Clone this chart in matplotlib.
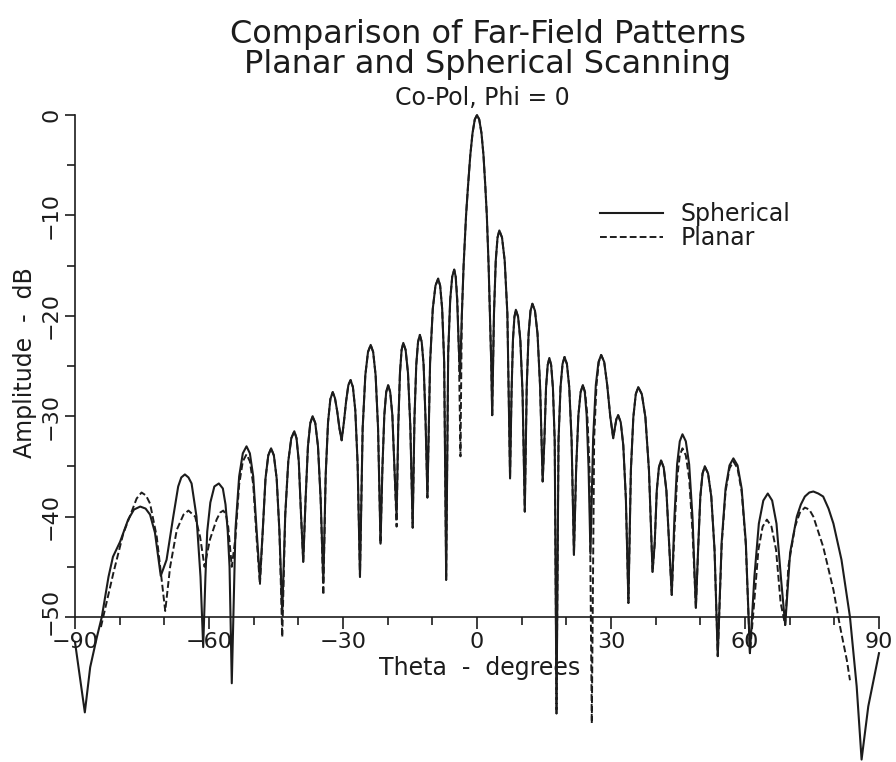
import numpy as np
import matplotlib
matplotlib.use("Agg")
import matplotlib.pyplot as plt
from matplotlib.ticker import MultipleLocator
from matplotlib.transforms import ScaledTranslation

# Far-field co-pol cut (Phi = 0): theta in degrees, amplitude in dB
# Spherical-scan result, split into left sidelobes, central region, far right
sph_left = [
    (-90.0, -52.5), (-87.8, -59.5), (-86.6, -55.0), (-85.1, -52.0), (-84.0, -50.0),
    (-82.5, -46.0), (-81.5, -44.0), (-79.9, -42.5), (-78.1, -40.3), (-76.8, -39.3),
    (-75.4, -39.0), (-74.2, -39.2), (-73.2, -39.8), (-72.1, -41.6), (-70.8, -45.9),
    (-69.5, -44.3), (-68.0, -40.0), (-66.9, -37.0), (-66.2, -36.1), (-65.4, -35.8),
    (-64.6, -36.1), (-63.9, -36.7), (-62.8, -40.0), (-61.9, -46.0), (-61.3, -53.0),
    (-60.8, -46.0), (-60.4, -41.5), (-59.7, -38.6), (-58.8, -37.0), (-57.8, -36.7),
    (-56.9, -37.2), (-56.3, -38.8), (-55.8, -41.5), (-55.4, -45.0), (-54.9, -56.6),
]
sph_center = [
    (-54.08, -41.3), (-53.25, -36.0), (-52.43, -33.7), (-51.6, -33.0),
    (-50.85, -33.7), (-50.1, -36.0), (-49.35, -41.3), (-48.6, -46.3),
    (-47.98, -41.5), (-47.35, -36.2), (-46.73, -33.9), (-46.1, -33.2),
    (-45.48, -33.9), (-44.85, -36.2), (-44.23, -41.5), (-43.6, -49.6),
    (-42.93, -39.8), (-42.25, -34.5), (-41.58, -32.2), (-40.9, -31.5),
    (-40.4, -32.2), (-39.9, -34.5), (-39.4, -39.8), (-38.9, -44.5),
    (-38.38, -38.3), (-37.85, -33.0), (-37.33, -30.7), (-36.8, -30.0),
    (-36.2, -30.7), (-35.6, -33.0), (-35.0, -38.3), (-34.4, -46.5),
    (-33.88, -35.9), (-33.35, -30.6), (-32.83, -28.3), (-32.3, -27.6),
    (-31.8, -28.2), (-31.3, -29.5), (-30.8, -31.2), (-30.3, -32.4),
    (-29.8, -30.6), (-29.3, -28.5), (-28.8, -26.9), (-28.3, -26.4),
    (-27.78, -27.1), (-27.25, -29.4), (-26.73, -34.7), (-26.2, -46.0),
    (-25.6, -31.2), (-25.0, -25.9), (-24.4, -23.6), (-23.8, -22.9),
    (-23.25, -23.6), (-22.7, -25.9), (-22.15, -31.2), (-21.6, -42.7),
    (-21.18, -35.2), (-20.75, -29.9), (-20.33, -27.6), (-19.9, -26.9),
    (-19.43, -27.6), (-18.95, -29.9), (-18.48, -35.2), (-18.0, -40.0),
    (-17.63, -31.0), (-17.25, -25.7), (-16.88, -23.4), (-16.5, -22.7),
    (-15.98, -23.4), (-15.45, -25.7), (-14.93, -31.0), (-14.4, -41.1),
    (-14.0, -30.2), (-13.6, -24.9), (-13.2, -22.6), (-12.8, -21.9),
    (-12.38, -22.6), (-11.95, -24.9), (-11.53, -30.2), (-11.1, -38.1),
    (-10.5, -24.6), (-9.9, -19.3), (-9.3, -17.0), (-8.7, -16.3),
    (-8.25, -17.0), (-7.8, -19.3), (-7.35, -24.6), (-6.9, -46.3),
    (-6.45, -23.7), (-6.0, -18.4), (-5.55, -16.1), (-5.1, -15.4),
    (-4.78, -16.1), (-4.45, -18.4), (-4.13, -22.5), (-3.8, -26.0),
    (-3.4, -20.0), (-3.0, -15.0), (-2.45, -10.0), (-2.0, -7.0), (-1.5, -4.0),
    (-1.0, -1.8), (-0.5, -0.45), (0.0, 0.0), (0.5, -0.45), (1.0, -1.8),
    (1.45, -4.0), (1.85, -7.0), (2.2, -10.0), (2.6, -15.0), (2.9, -20.0),
    (3.2, -25.0), (3.4, -29.9),
    (3.8, -19.8), (4.2, -14.5), (4.6, -12.2), (5.0, -11.5),
    (5.6, -12.2), (6.2, -14.5), (6.8, -19.8), (7.4, -36.2),
    (7.73, -27.7), (8.05, -22.4), (8.38, -20.1), (8.7, -19.4),
    (9.2, -20.1), (9.7, -22.4), (10.2, -27.7), (10.7, -39.5),
    (11.13, -27.1), (11.55, -21.8), (11.98, -19.5), (12.4, -18.8),
    (12.98, -19.5), (13.55, -21.8), (14.13, -27.1), (14.7, -36.5),
    (15.08, -32.5), (15.45, -27.2), (15.83, -24.9), (16.2, -24.2),
    (16.6, -24.9), (17.0, -27.2), (17.4, -32.5), (17.8, -59.6),
    (18.25, -32.4), (18.7, -27.1), (19.15, -24.8), (19.6, -24.1),
    (20.13, -24.8), (20.65, -27.1), (21.18, -32.4), (21.7, -43.8),
    (22.2, -35.2), (22.7, -29.9), (23.2, -27.6), (23.7, -26.9),
    (24.13, -27.6), (24.55, -29.9), (24.98, -35.2), (25.4, -43.7),
    (26.0, -32.2), (26.6, -26.9), (27.2, -24.6), (27.8, -23.9),
    (28.48, -24.6), (29.15, -26.9), (29.83, -30.0), (30.5, -32.2),
    (30.85, -31.2), (31.2, -30.3), (31.6, -29.9),
    (32.18, -30.6), (32.75, -32.9), (33.33, -38.2), (33.9, -48.6),
    (34.45, -35.4), (35.0, -30.1), (35.55, -27.8), (36.1, -27.1),
    (36.9, -27.8), (37.7, -30.1), (38.5, -35.4), (39.3, -45.5),
    (39.78, -42.7), (40.25, -37.4), (40.73, -35.1), (41.2, -34.4),
    (41.8, -35.1), (42.4, -37.4), (43.0, -42.7), (43.6, -47.8),
    (44.2, -40.1), (44.8, -34.8), (45.4, -32.5), (46.0, -31.8),
    (46.75, -32.5), (47.5, -34.8), (48.25, -40.1), (49.0, -49.1),
    (49.5, -43.3), (50.0, -38.0), (50.5, -35.7), (51.0, -35.0),
    (51.73, -35.7), (52.45, -38.0), (53.18, -43.3), (53.9, -53.9),
    (54.78, -42.5), (55.65, -37.2), (56.53, -34.9), (57.4, -34.2),
    (58.33, -34.9), (59.25, -37.2), (60.18, -42.5), (61.1, -53.6),
]
sph_right = [
    (62.1, -46.0), (63.1, -40.7), (64.1, -38.4), (65.1, -37.7),
    (66.08, -38.4), (67.05, -40.7), (68.03, -46.0), (69.0, -50.8),
    (70.1, -43.6), (71.6, -40.0), (72.5, -38.8), (73.4, -38.0), (74.4, -37.6),
    (75.3, -37.5), (76.4, -37.7), (77.5, -38.0), (78.7, -39.2), (79.8, -40.7),
    (81.6, -44.3), (83.5, -50.0), (85.0, -56.9), (86.1, -64.2), (87.6, -58.9),
    (90.0, -53.6),
]

# Planar-scan result (valid range about +/-84 degrees)
pla_left = [
    (-84.2, -51.0), (-82.8, -48.3), (-81.4, -45.6), (-79.2, -41.7), (-77.3, -39.5),
    (-76.2, -38.2), (-75.1, -37.6), (-74.1, -37.9), (-73.2, -38.7), (-71.7, -42.0),
    (-69.8, -49.4), (-68.7, -45.0), (-67.2, -41.3), (-65.7, -39.8), (-64.6, -39.4),
    (-63.1, -40.0), (-62.0, -42.0), (-61.0, -45.0), (-59.8, -42.3), (-58.3, -40.3),
    (-57.5, -39.6), (-56.8, -39.4), (-56.2, -39.8), (-55.7, -41.0), (-54.9, -45.0),
]
pla_center = [
    (-54.08, -42.1), (-53.25, -36.8), (-52.43, -34.5), (-51.6, -33.8),
    (-50.85, -34.5), (-50.1, -36.8), (-49.35, -42.1), (-48.6, -46.8),
    (-47.98, -41.5), (-47.35, -36.2), (-46.73, -33.9), (-46.1, -33.2),
    (-45.48, -33.9), (-44.85, -36.2), (-44.23, -41.5), (-43.6, -52.0),
    (-42.93, -39.8), (-42.25, -34.5), (-41.58, -32.2), (-40.9, -31.5),
    (-40.4, -32.2), (-39.9, -34.5), (-39.4, -39.8), (-38.9, -44.5),
    (-38.38, -38.3), (-37.85, -33.0), (-37.33, -30.7), (-36.8, -30.0),
    (-36.2, -30.7), (-35.6, -33.0), (-35.0, -38.3), (-34.4, -47.8),
    (-33.88, -35.9), (-33.35, -30.6), (-32.83, -28.3), (-32.3, -27.6),
    (-31.8, -28.2), (-31.3, -29.5), (-30.8, -31.2), (-30.3, -32.4),
    (-29.8, -30.6), (-29.3, -28.5), (-28.8, -26.9), (-28.3, -26.4),
    (-27.78, -27.1), (-27.25, -29.4), (-26.73, -34.7), (-26.2, -46.0),
    (-25.6, -31.2), (-25.0, -25.9), (-24.4, -23.6), (-23.8, -22.9),
    (-23.25, -23.6), (-22.7, -25.9), (-22.15, -31.2), (-21.6, -42.7),
    (-21.18, -35.2), (-20.75, -29.9), (-20.33, -27.6), (-19.9, -26.9),
    (-19.43, -27.6), (-18.95, -29.9), (-18.48, -35.2), (-18.0, -41.0),
    (-17.63, -31.0), (-17.25, -25.7), (-16.88, -23.4), (-16.5, -22.7),
    (-15.98, -23.4), (-15.45, -25.7), (-14.93, -31.0), (-14.4, -41.1),
    (-14.0, -30.2), (-13.6, -24.9), (-13.2, -22.6), (-12.8, -21.9),
    (-12.38, -22.6), (-11.95, -24.9), (-11.53, -30.2), (-11.1, -38.1),
    (-10.5, -24.6), (-9.9, -19.3), (-9.3, -17.0), (-8.7, -16.3),
    (-8.25, -17.0), (-7.8, -19.3), (-7.35, -24.6), (-6.9, -46.3),
    (-6.45, -23.7), (-6.0, -18.4), (-5.55, -16.1), (-5.1, -15.4),
    (-4.75, -16.1), (-4.4, -18.4), (-4.05, -23.7), (-3.7, -34.0),
    (-3.4, -20.0), (-3.0, -15.0), (-2.45, -10.0), (-2.0, -7.0), (-1.5, -4.0),
    (-1.0, -1.8), (-0.5, -0.45), (0.0, 0.0), (0.5, -0.45), (1.0, -1.8),
    (1.45, -4.0), (1.85, -7.0), (2.2, -10.0), (2.6, -15.0), (2.9, -20.0),
    (3.2, -25.0), (3.4, -29.9),
    (3.8, -19.8), (4.2, -14.5), (4.6, -12.2), (5.0, -11.5),
    (5.6, -12.2), (6.2, -14.5), (6.8, -19.8), (7.4, -36.2),
    (7.73, -27.7), (8.05, -22.4), (8.38, -20.1), (8.7, -19.4),
    (9.2, -20.1), (9.7, -22.4), (10.2, -27.7), (10.7, -39.5),
    (11.13, -27.1), (11.55, -21.8), (11.98, -19.5), (12.4, -18.8),
    (12.98, -19.5), (13.55, -21.8), (14.13, -27.1), (14.7, -36.5),
    (15.08, -32.5), (15.45, -27.2), (15.83, -24.9), (16.2, -24.2),
    (16.6, -24.9), (17.0, -27.2), (17.4, -32.5), (17.8, -59.6),
    (18.25, -32.4), (18.7, -27.1), (19.15, -24.8), (19.6, -24.1),
    (20.13, -24.8), (20.65, -27.1), (21.18, -32.4), (21.7, -43.8),
    (22.2, -35.2), (22.7, -29.9), (23.2, -27.6), (23.7, -26.9),
    (24.2, -27.6), (24.7, -29.9), (25.2, -35.2), (25.7, -60.6),
    (26.23, -32.2), (26.75, -26.9), (27.28, -24.6), (27.8, -23.9),
    (28.48, -24.6), (29.15, -26.9), (29.83, -30.0), (30.5, -32.2),
    (30.85, -31.2), (31.2, -30.3), (31.6, -29.9),
    (32.18, -30.6), (32.75, -32.9), (33.33, -38.2), (33.9, -48.6),
    (34.45, -35.4), (35.0, -30.1), (35.55, -27.8), (36.1, -27.1),
    (36.9, -27.8), (37.7, -30.1), (38.5, -35.4), (39.3, -45.5),
    (39.78, -42.7), (40.25, -37.4), (40.73, -35.1), (41.2, -34.4),
    (41.8, -35.1), (42.4, -37.4), (43.0, -42.7), (43.6, -47.8),
    (44.2, -41.5), (44.8, -36.2), (45.4, -33.9), (46.0, -33.2),
    (46.75, -33.9), (47.5, -36.2), (48.25, -41.5), (49.0, -49.1),
    (49.5, -43.3), (50.0, -38.0), (50.5, -35.7), (51.0, -35.0),
    (51.73, -35.7), (52.45, -38.0), (53.18, -43.3), (53.9, -53.9),
    (54.78, -42.8), (55.65, -37.5), (56.53, -35.2), (57.4, -34.5),
    (58.33, -35.2), (59.25, -37.5), (60.18, -42.8), (61.1, -53.6),
]
pla_right = [
    (62.05, -48.6), (63.0, -43.3), (63.95, -41.0), (64.9, -40.3),
    (65.93, -41.0), (66.95, -43.3), (67.98, -48.6), (69.0, -50.8),
    (69.7, -45.0), (71.2, -41.0), (72.3, -39.6), (73.4, -39.1), (74.4, -39.3),
    (75.3, -40.0), (77.5, -43.0), (79.8, -47.3), (81.3, -51.0), (82.8, -54.3),
    (83.5, -56.3),
]

x_ticks = [-90, -60, -30, 0, 30, 60, 90]
y_ticks = [0, -10, -20, -30, -40, -50]

ink = "#1c1c1c"
plt.rcParams["font.family"] = ["DejaVu Sans"]
plt.rcParams["text.color"] = ink

W, H = 896, 762
fig = plt.figure(figsize=(W / 100, H / 100), dpi=100)
fig.patch.set_facecolor("white")

# axes: theta -90..90 -> x px 75..879, 0 dB at y px 115, bottom edge of figure
top_px = 115
ax = fig.add_axes([75 / W, 0.0, 804 / W, (H - top_px) / H])
ax.set_facecolor("none")
ax.set_xlim(-90, 90)
ax.set_ylim(-(H - top_px) / 10.04, 0)

sph = np.array(sph_left + sph_center + sph_right)
pla = np.array(pla_left + pla_center + pla_right)

ax.plot(sph[:, 0], sph[:, 1], color=ink, lw=1.5, solid_joinstyle="round",
        clip_on=False, label="Spherical", zorder=3)
ax.plot(pla[:, 0], pla[:, 1], color=ink, lw=1.4, linestyle=(0, (3.5, 1.6)),
        clip_on=False, label="Planar", zorder=4)

for s in ("top", "right"):
    ax.spines[s].set_visible(False)
ax.spines["left"].set_bounds(-50, 0)
ax.spines["bottom"].set_position(("data", -50))
ax.spines["bottom"].set_bounds(-90, 90)
for s in ("left", "bottom"):
    ax.spines[s].set_linewidth(1.2)
    ax.spines[s].set_color(ink)

ax.set_xticks(x_ticks)
ax.set_xticklabels([f"{v}".replace("-", "\u2212") for v in x_ticks])
ax.xaxis.set_minor_locator(MultipleLocator(10))
ax.set_yticks(y_ticks)
ax.set_yticklabels([f"{v}".replace("-", "\u2212") for v in y_ticks],
                   rotation=90, va="center")
ax.set_yticks([-5, -15, -25, -35, -45], minor=True)

ax.tick_params(axis="x", which="major", direction="out", length=8.5, width=1.2,
               pad=2.5, labelsize=16, colors=ink)
ax.tick_params(axis="x", which="minor", direction="out", length=5.5, width=1.2, colors=ink)
ax.tick_params(axis="y", which="major", direction="out", length=7, width=1.2,
               pad=3, labelsize=16, colors=ink)
ax.tick_params(axis="y", which="minor", direction="out", length=6, width=1.2, colors=ink)

# lift the bottom y label a little so it clears the -90 label below it
lab50 = ax.get_yticklabels()[-1]
lab50.set_transform(lab50.get_transform() + ScaledTranslation(0, 6 / 100, fig.dpi_scale_trans))

# axis titles
fig.text(480 / W, 1 - 668 / H, "Theta  -  degrees", ha="center", va="center", fontsize=17)
fig.text(25 / W, 1 - 363 / H, "Amplitude  -  dB", ha="center", va="center",
         rotation=90, fontsize=17)

# titles
fig.text(488 / W, 1 - 34 / H, "Comparison of Far-Field Patterns", ha="center",
         va="center", fontsize=23)
fig.text(488 / W, 1 - 65 / H, "Planar and Spherical Scanning", ha="center",
         va="center", fontsize=23)
fig.text(482 / W, 1 - 98 / H, "Co-Pol, Phi = 0", ha="center", va="center", fontsize=17)

leg = ax.legend(loc="upper left", bbox_to_anchor=(600 / W, 1 - 202 / H),
                bbox_transform=fig.transFigure, frameon=False, fontsize=17,
                handlelength=2.67, handletextpad=0.76, labelspacing=0.0,
                borderpad=0, borderaxespad=0)

fig.savefig("out.png", dpi=100, facecolor="white")
